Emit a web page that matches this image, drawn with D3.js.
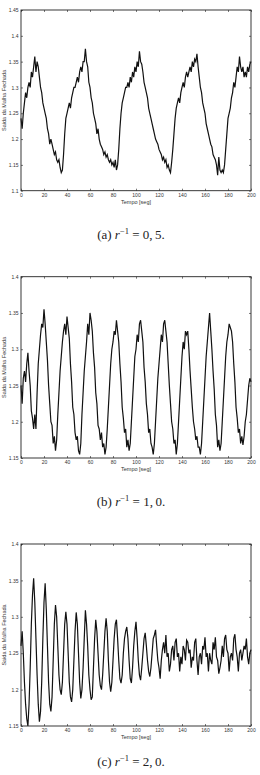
<!DOCTYPE html>
<html>
<head>
<meta charset="utf-8">
<script src="https://cdn.jsdelivr.net/npm/d3@7"></script>
<style>
  body { margin: 0; background: #fff; }
  .tick text { font-family: "Liberation Sans", Arial, sans-serif; font-size: 5px; fill: #333; }
  .tick line { stroke: #222; stroke-width: 0.6; }
</style>
</head>
<body>
<div id="chart"></div>
<script>
/* closed loop output for three values of r^-1 */

// time axis, one sample per second
const tempo = d3.range(0, 201);

const saidaA = [
  1.24,1.22,1.25,1.27,1.29,1.28,1.30,1.31,1.30,1.33,1.32,1.34,1.36,1.33,1.35,1.34,1.32,1.30,1.29,1.27,
  1.26,1.25,1.24,1.22,1.21,1.19,1.20,1.19,1.18,1.17,1.175,1.16,1.155,1.16,1.145,1.135,1.14,1.17,1.21,1.24,
  1.25,1.26,1.27,1.26,1.28,1.29,1.30,1.30,1.31,1.32,1.31,1.33,1.34,1.33,1.35,1.35,1.375,1.35,1.34,1.31,
  1.30,1.28,1.27,1.25,1.24,1.23,1.21,1.22,1.20,1.19,1.185,1.18,1.17,1.175,1.165,1.17,1.16,1.155,1.16,1.15,
  1.155,1.145,1.16,1.14,1.15,1.18,1.22,1.25,1.27,1.28,1.29,1.30,1.30,1.31,1.30,1.32,1.31,1.33,1.32,1.34,
  1.33,1.35,1.34,1.37,1.35,1.345,1.33,1.31,1.30,1.29,1.28,1.26,1.25,1.24,1.23,1.22,1.21,1.20,1.195,1.19,
  1.18,1.175,1.17,1.16,1.165,1.155,1.16,1.145,1.15,1.14,1.135,1.155,1.18,1.21,1.24,1.26,1.27,1.28,1.27,1.29,
  1.30,1.31,1.30,1.32,1.33,1.32,1.33,1.34,1.33,1.35,1.34,1.355,1.35,1.365,1.34,1.32,1.30,1.29,1.27,1.26,
  1.25,1.23,1.22,1.21,1.20,1.19,1.185,1.17,1.165,1.16,1.15,1.13,1.165,1.14,1.135,1.14,1.135,1.15,1.18,1.21,
  1.24,1.25,1.26,1.28,1.29,1.31,1.30,1.32,1.34,1.33,1.36,1.34,1.33,1.34,1.32,1.33,1.32,1.34,1.33,1.345,
  1.35
];

const saidaB = [
  1.25,1.225,1.26,1.27,1.255,1.28,1.295,1.27,1.25,1.215,1.205,1.19,1.21,1.19,1.24,1.28,1.30,1.32,1.335,1.33,
  1.355,1.335,1.31,1.285,1.25,1.225,1.20,1.195,1.17,1.18,1.16,1.175,1.21,1.24,1.27,1.29,1.31,1.325,1.335,1.32,
  1.345,1.33,1.315,1.28,1.255,1.22,1.21,1.185,1.175,1.18,1.16,1.155,1.17,1.21,1.24,1.27,1.29,1.31,1.335,1.32,
  1.35,1.34,1.325,1.295,1.275,1.24,1.225,1.195,1.19,1.175,1.185,1.165,1.17,1.155,1.165,1.19,1.22,1.25,1.28,1.30,
  1.31,1.325,1.32,1.34,1.325,1.31,1.28,1.255,1.22,1.205,1.185,1.19,1.165,1.175,1.16,1.17,1.20,1.23,1.26,1.29,
  1.30,1.32,1.31,1.335,1.34,1.325,1.31,1.275,1.255,1.225,1.21,1.185,1.19,1.17,1.165,1.155,1.17,1.20,1.23,1.26,
  1.28,1.30,1.32,1.31,1.335,1.34,1.325,1.31,1.28,1.25,1.225,1.20,1.19,1.17,1.175,1.155,1.17,1.20,1.23,1.26,
  1.29,1.31,1.30,1.325,1.32,1.325,1.30,1.27,1.245,1.22,1.20,1.19,1.175,1.18,1.165,1.165,1.155,1.17,1.20,1.23,
  1.26,1.29,1.31,1.33,1.35,1.325,1.30,1.27,1.245,1.21,1.195,1.165,1.175,1.16,1.17,1.20,1.23,1.26,1.29,1.31,
  1.32,1.335,1.33,1.325,1.31,1.28,1.255,1.22,1.205,1.185,1.19,1.17,1.18,1.168,1.18,1.20,1.21,1.23,1.25,1.26,
  1.255
];

const saidaC = [
  1.26,1.28,1.25,1.21,1.18,1.16,1.15,1.18,1.23,1.29,1.33,1.353,1.32,1.27,1.22,1.18,1.156,1.17,1.21,1.27,
  1.32,1.346,1.31,1.26,1.21,1.18,1.17,1.19,1.24,1.29,1.316,1.30,1.26,1.22,1.20,1.193,1.21,1.25,1.29,1.307,
  1.29,1.25,1.21,1.19,1.183,1.20,1.24,1.28,1.306,1.29,1.25,1.21,1.188,1.20,1.23,1.27,1.309,1.29,1.26,1.22,
  1.20,1.186,1.19,1.23,1.27,1.296,1.28,1.25,1.22,1.205,1.20,1.22,1.25,1.28,1.298,1.28,1.24,1.21,1.197,1.21,
  1.24,1.27,1.29,1.296,1.27,1.24,1.215,1.209,1.22,1.25,1.27,1.28,1.286,1.27,1.24,1.215,1.209,1.23,1.26,1.28,
  1.293,1.27,1.24,1.22,1.213,1.23,1.25,1.27,1.278,1.26,1.24,1.225,1.218,1.23,1.25,1.27,1.275,1.282,1.26,1.24,
  1.23,1.215,1.24,1.255,1.265,1.25,1.275,1.245,1.25,1.225,1.235,1.255,1.26,1.24,1.265,1.27,1.245,1.25,1.225,1.245,
  1.235,1.26,1.255,1.24,1.268,1.265,1.25,1.255,1.23,1.245,1.24,1.265,1.27,1.24,1.22,1.245,1.25,1.235,1.26,1.255,
  1.272,1.245,1.25,1.225,1.25,1.24,1.235,1.265,1.255,1.272,1.245,1.24,1.222,1.23,1.24,1.26,1.245,1.27,1.275,1.255,
  1.25,1.225,1.245,1.25,1.24,1.27,1.276,1.255,1.245,1.225,1.25,1.255,1.24,1.25,1.26,1.255,1.27,1.245,1.235,1.25,
  1.255
];

const xTicks = [0, 20, 40, 60, 80, 100, 120, 140, 160, 180, 200];
const yTicksA = [1.1, 1.15, 1.2, 1.25, 1.3, 1.35, 1.4, 1.45];
const yTicksBC = [1.15, 1.2, 1.25, 1.3, 1.35, 1.4];
const legendas = ["(a)", "(b)", "(c)"];
const razoes = ["0,\u20095.", "1,\u20090.", "2,\u20090."];

const width = 260, height = 775;

const svg = d3.select("#chart")
    .append("svg")
    .attr("width", width)
    .attr("height", height);

const paineis = [
    {serie: saidaA, yt: yTicksA, top: 10, bottom: 190.7, cap: 239},
    {serie: saidaB, yt: yTicksBC, top: 276.7, bottom: 458, cap: 506},
    {serie: saidaC, yt: yTicksBC, top: 544, bottom: 726, cap: 766}
];

const left = 21, right = 251;

paineis.forEach((p, i) => {
    const g = svg.append("g");

    const x = d3.scaleLinear()
        .domain([0, 200])
        .range([left, right]);

    const y = d3.scaleLinear()
        .domain(d3.extent(p.yt))
        .range([p.bottom, p.top]);

    // the signal
    const line = d3.line()
        .x((d, k) => x(tempo[k]))
        .y(d => y(d));

    g.append("path")
        .datum(p.serie)
        .attr("fill", "none")
        .attr("stroke", "#111")
        .attr("stroke-width", 1.2)
        .attr("stroke-linejoin", "miter")
        .attr("d", line);

    /* axes, ticks pointing inward on all four sides like matlab */
    g.append("g")
        .attr("transform", `translate(0,${p.bottom})`)
        .call(d3.axisBottom(x).tickValues(xTicks).tickSize(-2).tickPadding(2.5).tickFormat(d3.format("d")))
        .call(a => a.select(".domain").remove());

    g.append("g")
        .attr("transform", `translate(${left},0)`)
        .call(d3.axisLeft(y).tickValues(p.yt).tickSize(-2).tickPadding(2.5).tickFormat(d => String(+d.toFixed(2))))
        .call(a => a.select(".domain").remove());

    g.append("g")
        .attr("transform", `translate(0,${p.top})`)
        .call(d3.axisTop(x).tickValues(xTicks).tickSize(-2).tickFormat(""))
        .call(a => a.select(".domain").remove());

    g.append("g")
        .attr("transform", `translate(${right},0)`)
        .call(d3.axisRight(y).tickValues(p.yt).tickSize(-2).tickFormat(""))
        .call(a => a.select(".domain").remove());

    // frame
    g.append("rect")
        .attr("x", left)
        .attr("y", p.top)
        .attr("width", right - left)
        .attr("height", p.bottom - p.top)
        .attr("fill", "none")
        .attr("stroke", "#222")
        .attr("stroke-width", 0.9);

    // axis titles
    g.append("text")
        .attr("x", (left + right) / 2)
        .attr("y", p.bottom + 13)
        .attr("text-anchor", "middle")
        .style("font-family", "Liberation Sans, Arial, sans-serif")
        .style("font-size", "5.5px")
        .style("fill", "#333")
        .text("Tempo [seg]");

    g.append("text")
        .attr("transform", `translate(6,${(p.top + p.bottom) / 2}) rotate(-90)`)
        .attr("text-anchor", "middle")
        .style("font-family", "Liberation Sans, Arial, sans-serif")
        .style("font-size", "5.5px")
        .style("fill", "#333")
        .text("Saida da Malha Fechada");

    // caption below the plot
    const cap = g.append("text")
        .attr("x", 131)
        .attr("y", p.cap)
        .attr("text-anchor", "middle")
        .style("font-family", "'Liberation Serif', 'DejaVu Serif', serif")
        .style("font-size", "13px")
        .style("fill", "#222");
    cap.append("tspan").text(legendas[i] + " ");
    cap.append("tspan").style("font-style", "italic").text("r");
    cap.append("tspan").attr("dy", -5).style("font-size", "8.5px").text("\u22121");
    cap.append("tspan").attr("dy", 5).text(" = " + razoes[i]);
});
</script>
</body>
</html>
